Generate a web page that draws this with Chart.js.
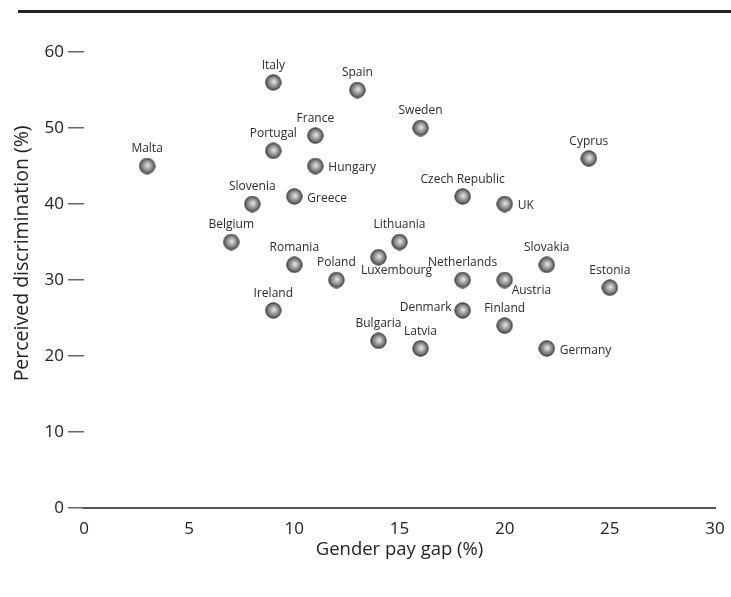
<!DOCTYPE html>
<html>
<head>
<meta charset="utf-8">
<script src="https://cdn.jsdelivr.net/npm/chart.js@4/dist/chart.umd.min.js"></script>
<style>
  html, body { margin: 0; padding: 0; background: #fff; }
  #wrap { position: relative; width: 731px; height: 597px; }
  #rule { position: absolute; left: 18px; right: 0; top: 10px; height: 3px; background: #222; }
  canvas { display: block; }
</style>
</head>
<body>
<div id="wrap">
  <div id="rule"></div>
  <canvas id="chart" width="731" height="597"></canvas>
</div>
<script>
// ---- data ----
const countries = ['Malta', 'Italy', 'Spain', 'France', 'Portugal', 'Hungary', 'Sweden', 'Slovenia', 'Greece',
  'Czech Republic', 'UK', 'Cyprus', 'Belgium', 'Lithuania', 'Romania', 'Luxembourg', 'Poland', 'Netherlands',
  'Austria', 'Slovakia', 'Estonia', 'Ireland', 'Denmark', 'Finland', 'Bulgaria', 'Latvia', 'Germany'];
const payGap =         [3, 9, 13, 11, 9, 11, 16, 8, 10, 18, 20, 24, 7, 15, 10, 14, 12, 18, 20, 22, 25, 9, 18, 20, 14, 16, 22];
const discrimination = [45, 56, 55, 49, 47, 45, 50, 40, 41, 41, 40, 46, 35, 35, 32, 33, 30, 30, 30, 32, 29, 26, 26, 24, 22, 21, 21];
const xTickValues = [0, 5, 10, 15, 20, 25, 30];
const yTickValues = [0, 10, 20, 30, 40, 50, 60];
const yTitle = 'Perceived discrimination (%)';
const xTitle = 'Gender pay gap (%)';

// where each name sits relative to its marker (default: above)
const labelSide = { Hungary: 'right', Greece: 'right', UK: 'right', Germany: 'right',
  Austria: 'belowRight', Luxembourg: 'below', Denmark: 'left' };

const FONT = "'Open Sans', sans-serif";

// shaded grey ball used as the point marker
function makeSphere(size) {
  const c = document.createElement('canvas');
  c.width = size; c.height = size;
  const g = c.getContext('2d');
  const r = size / 2;
  const grad = g.createRadialGradient(r + 0.8, r - 0.8, 0, r, r, r);
  grad.addColorStop(0, '#ececec');
  grad.addColorStop(0.4, '#a8a8a8');
  grad.addColorStop(0.8, '#646464');
  grad.addColorStop(1, '#404040');
  g.beginPath();
  g.arc(r, r, r - 0.8, 0, Math.PI * 2);
  g.fillStyle = grad;
  g.fill();
  g.lineWidth = 1;
  g.strokeStyle = '#363636';
  g.stroke();
  return c;
}

const pointLabels = {
  id: 'pointLabels',
  afterDatasetsDraw(chart) {
    const ctx = chart.ctx;
    const meta = chart.getDatasetMeta(0);
    ctx.save();
    ctx.font = '12px ' + FONT;
    ctx.fillStyle = '#2a2a2a';
    ctx.textBaseline = 'middle';
    meta.data.forEach((pt, i) => {
      const name = countries[i];
      const side = labelSide[name] || 'top';
      let x = pt.x, y = pt.y;
      if (side === 'right') { ctx.textAlign = 'left'; x += 13; y += 2; }
      else if (side === 'left') { ctx.textAlign = 'right'; x -= 11; y -= 3; }
      else if (side === 'belowRight') { ctx.textAlign = 'left'; x += 7; y += 11; }
      else if (side === 'below') { ctx.textAlign = 'center'; x += 18; y += 13; }
      else { ctx.textAlign = 'center'; y -= 17; }
      ctx.fillText(name, x, y);
    });

    // y axis title sits a little above the middle of the axis in the original
    const ys = chart.scales.y;
    ctx.translate(22, ys.getPixelForValue(33.5));
    ctx.rotate(-Math.PI / 2);
    ctx.font = '19.5px ' + FONT;
    ctx.fillStyle = '#222';
    ctx.textAlign = 'center';
    ctx.fillText(yTitle, 0, 0);
    ctx.restore();
  }
};

const points = countries.map((c, i) => ({ x: payGap[i], y: discrimination[i] }));

new Chart(document.getElementById('chart'), {
  type: 'scatter',
  data: {
    datasets: [{
      data: points,
      pointStyle: makeSphere(17),
      pointRadius: 8,
      pointHoverRadius: 8
    }]
  },
  options: {
    responsive: false,
    animation: false,
    layout: { padding: { top: 52, right: 16, bottom: 34, left: 0 } },
    plugins: { legend: { display: false }, tooltip: { enabled: false } },
    scales: {
      x: {
        type: 'linear', min: 0, max: 30,
        afterBuildTicks: s => { s.ticks = xTickValues.map(v => ({ value: v })); },
        afterFit: s => { s.height = 55; },
        ticks: { color: '#222', font: { family: FONT, size: 17 }, padding: 3 },
        grid: { display: false },
        border: { display: true, color: '#555', width: 2 },
        title: { display: true, text: xTitle, color: '#222',
          font: { family: FONT, size: 18.5 }, padding: { top: 0, bottom: 2 } }
      },
      y: {
        type: 'linear', min: 0, max: 60,
        afterBuildTicks: s => { s.ticks = yTickValues.map(v => ({ value: v })); },
        afterFit: s => { s.width = 84; },
        ticks: { color: '#222', font: { family: FONT, size: 17 }, padding: 4 },
        grid: { drawOnChartArea: false, drawTicks: true, tickLength: 16, color: '#666', lineWidth: 1.5 },
        border: { display: false },
        title: { display: false }
      }
    }
  },
  plugins: [pointLabels]
});
</script>
</body>
</html>
